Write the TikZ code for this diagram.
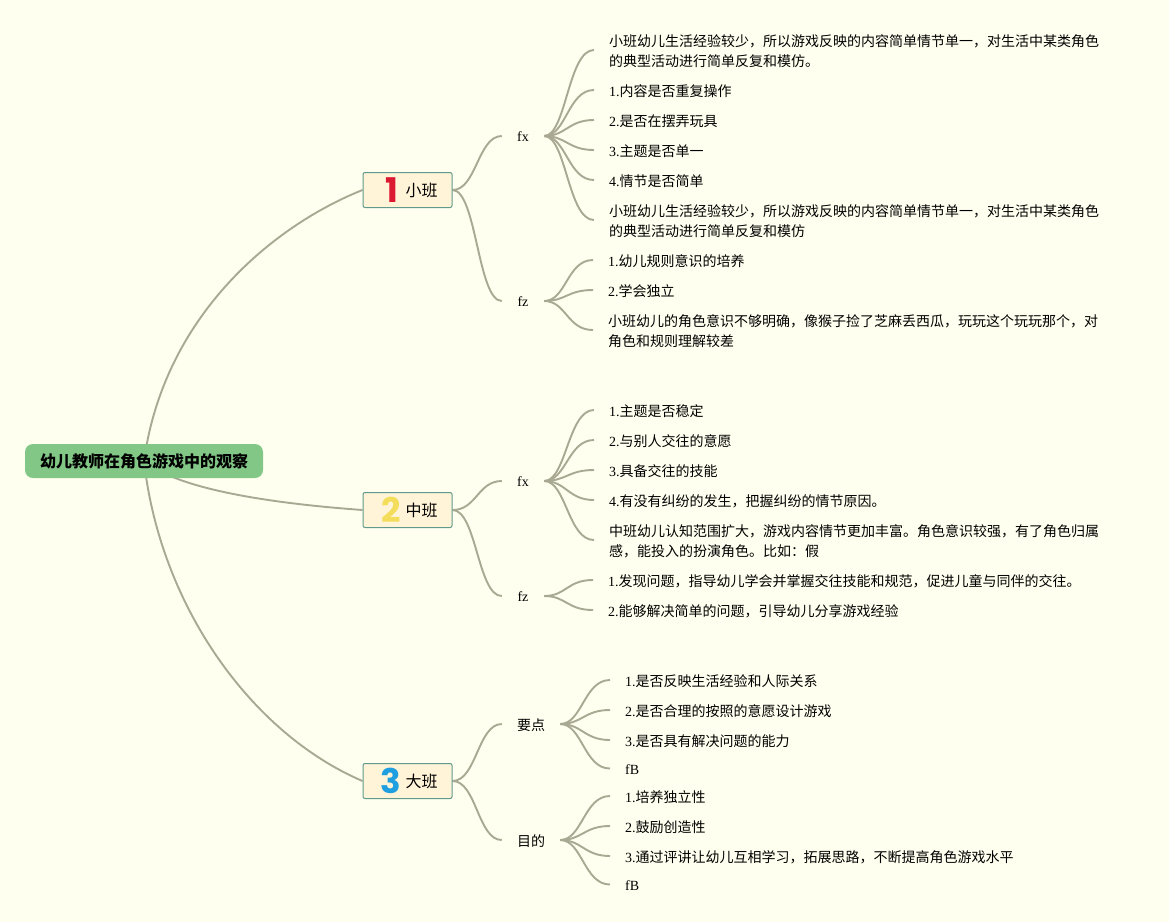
\documentclass[tikz,border=0pt]{standalone}
\usepackage{fontspec}
\setmainfont{Liberation Serif}
\newfontfamily\cjk{Noto Sans CJK SC}
\newfontfamily\numfont{Poppins}
\usetikzlibrary{backgrounds}
\definecolor{pagebg}{HTML}{FFFFF0}
\definecolor{linkgray}{HTML}{A8A893}
\definecolor{rootgreen}{HTML}{82C785}
\definecolor{secfill}{HTML}{FFF3D8}
\definecolor{secline}{HTML}{5F9A8C}
\definecolor{numred}{HTML}{DB1A32}
\definecolor{numyellow}{HTML}{F4DD5A}
\definecolor{numblue}{HTML}{1F9FDF}
\tikzset{
  rootbox/.style={fill=rootgreen, rounded corners=8pt, minimum width=238pt, minimum height=34pt, inner sep=0pt, font=\fontsize{16}{20}\selectfont\cjk\bfseries},
  secbox/.style={draw=secline, fill=secfill, line width=1pt, rounded corners=2pt, minimum width=89pt, minimum height=35pt, inner sep=0pt, font=\fontsize{16}{20}\selectfont\cjk},
  numlabel/.style={inner sep=0pt, font=\fontsize{34}{34}\selectfont\numfont\bfseries},
  midnode/.style={yshift=-1pt, minimum height=20pt, inner sep=0pt, font=\fontsize{14}{20}\selectfont},
  leaf/.style={yshift=-1pt, anchor=west, align=left, inner xsep=15pt, inner ysep=0pt, font=\fontsize{14}{20}\selectfont},
  link/.style={draw=linkgray, line width=1.9pt},
}
\newcommand{\midlink}[2]{\draw[link] (#1.east) .. controls +(24,0) and +(-24,0) .. ([yshift=1pt]#2.west);}
\newcommand{\leaflink}[2]{\draw[link] ([yshift=1pt]#1.east) .. controls +(22,0) and +(-26,0) .. ([yshift=1pt]#2.west);}
\begin{document}
\begin{tikzpicture}[x=1pt, y=-1pt]
    \useasboundingbox (0,0) rectangle (1169,922);
    % root and classes
    \node[rootbox] (root) at (144,461) {\raisebox{-1pt}{幼儿教师在角色游戏中的观察}};
    \node[secbox] (xiaoban) at (407.5,190) {\hspace{28pt}\raisebox{-1pt}{小班}};
    \node[secbox] (zhongban) at (407.5,510) {\hspace{28pt}\raisebox{-1pt}{中班}};
    \node[secbox] (daban) at (407.5,781) {\hspace{28pt}\raisebox{-1pt}{大班}};
    \node[numlabel, numred] (num1) at (391.5,190) {1};
    \node[numlabel, numyellow] (num2) at (391,510) {2};
    \node[numlabel, numblue] (num3) at (391,781) {3};
    % small class
    \node[midnode, minimum width=42pt] (xfx) at (523,136) {fx};
    \node[midnode, minimum width=42pt] (xfz) at (523,301) {fz};
    \node[leaf] (xa1) at (594,50) {{\cjk 小班幼儿生活经验较少，所以游戏反映的内容简单情节单一，对生活中某类角色}\\{\cjk 的典型活动进行简单反复和模仿。}};
    \node[leaf] (xa2) at (594,90) {1.{\cjk 内容是否重复操作}};
    \node[leaf] (xa3) at (594,120) {2.{\cjk 是否在摆弄玩具}};
    \node[leaf] (xa4) at (594,150) {3.{\cjk 主题是否单一}};
    \node[leaf] (xa5) at (594,180) {4.{\cjk 情节是否简单}};
    \node[leaf] (xa6) at (594,220) {{\cjk 小班幼儿生活经验较少，所以游戏反映的内容简单情节单一，对生活中某类角色}\\{\cjk 的典型活动进行简单反复和模仿}};
    \node[leaf] (xb1) at (593,260) {1.{\cjk 幼儿规则意识的培养}};
    \node[leaf] (xb2) at (593,290) {2.{\cjk 学会独立}};
    \node[leaf] (xb3) at (593,330) {{\cjk 小班幼儿的角色意识不够明确，像猴子捡了芝麻丢西瓜，玩玩这个玩玩那个，对}\\{\cjk 角色和规则理解较差}};
    % middle class
    \node[midnode, minimum width=42pt] (zfx) at (523,481) {fx};
    \node[midnode, minimum width=42pt] (zfz) at (523,596) {fz};
    \node[leaf] (za1) at (594,410) {1.{\cjk 主题是否稳定}};
    \node[leaf] (za2) at (594,440) {2.{\cjk 与别人交往的意愿}};
    \node[leaf] (za3) at (594,470) {3.{\cjk 具备交往的技能}};
    \node[leaf] (za4) at (594,500) {4.{\cjk 有没有纠纷的发生，把握纠纷的情节原因。}};
    \node[leaf] (za5) at (594,540) {{\cjk 中班幼儿认知范围扩大，游戏内容情节更加丰富。角色意识较强，有了角色归属}\\{\cjk 感，能投入的扮演角色。比如：假}};
    \node[leaf] (zb1) at (593,580) {1.{\cjk 发现问题，指导幼儿学会并掌握交往技能和规范，促进儿童与同伴的交往。}};
    \node[leaf] (zb2) at (593,610) {2.{\cjk 能够解决简单的问题，引导幼儿分享游戏经验}};
    % big class
    \node[midnode, minimum width=58pt, font=\fontsize{14}{20}\selectfont\cjk] (dyd) at (531,724) {要点};
    \node[midnode, minimum width=58pt, font=\fontsize{14}{20}\selectfont\cjk] (dmd) at (531,840) {目的};
    \node[leaf] (da1) at (610,680) {1.{\cjk 是否反映生活经验和人际关系}};
    \node[leaf] (da2) at (610,710) {2.{\cjk 是否合理的按照的意愿设计游戏}};
    \node[leaf] (da3) at (610,740) {3.{\cjk 是否具有解决问题的能力}};
    \node[leaf] (da4) at (610,768.5) {fB};
    \node[leaf] (db1) at (610,796) {1.{\cjk 培养独立性}};
    \node[leaf] (db2) at (610,826) {2.{\cjk 鼓励创造性}};
    \node[leaf] (db3) at (610,856) {3.{\cjk 通过评讲让幼儿互相学习，拓展思路，不断提高角色游戏水平}};
    \node[leaf] (db4) at (610,884.5) {fB};
    % connectors go under the boxes
    \begin{scope}[on background layer]
      \fill[pagebg] (0,0) rectangle (1169,922);
      \draw[link] (root.center) .. controls +(20,-145) and +(-90,36) .. (xiaoban.west);
      \draw[link] (root.center) .. controls +(30,25) and +(-110,-8) .. (zhongban.west);
      \draw[link] (root.center) .. controls +(16,144) and +(-112,-48) .. (daban.west);
      \midlink{xiaoban}{xfx}
      \midlink{xiaoban}{xfz}
      \midlink{zhongban}{zfx}
      \midlink{zhongban}{zfz}
      \midlink{daban}{dyd}
      \midlink{daban}{dmd}
      \foreach \leafname in {xa1,xa2,xa3,xa4,xa5,xa6} {\leaflink{xfx}{\leafname}}
      \foreach \leafname in {xb1,xb2,xb3} {\leaflink{xfz}{\leafname}}
      \foreach \leafname in {za1,za2,za3,za4,za5} {\leaflink{zfx}{\leafname}}
      \foreach \leafname in {zb1,zb2} {\leaflink{zfz}{\leafname}}
      \foreach \leafname in {da1,da2,da3,da4} {\leaflink{dyd}{\leafname}}
      \foreach \leafname in {db1,db2,db3,db4} {\leaflink{dmd}{\leafname}}
    \end{scope}
  \end{tikzpicture}
\end{document}
